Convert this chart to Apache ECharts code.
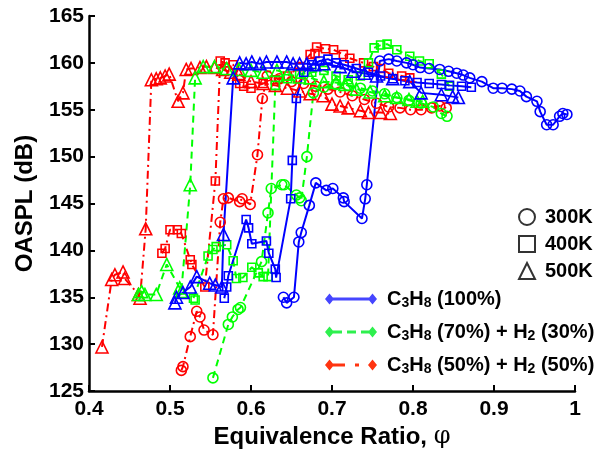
<!DOCTYPE html>
<html>
<head>
<meta charset="utf-8">
<script src="https://cdn.jsdelivr.net/npm/echarts@6/dist/echarts.min.js"></script>
<style>
  html, body { margin: 0; padding: 0; background: #fff; }
  #chart { width: 603px; height: 451px; }
</style>
</head>
<body>
<div id="chart"></div>
<script>
// [equivalence ratio, OASPL dB]
var c3h8_300K = [[0.640,135.0],[0.644,134.4],[0.653,135.0],[0.659,140.9],[0.662,141.9],[0.672,144.8],[0.680,147.2],[0.693,146.4],[0.701,146.6],[0.714,145.6],[0.715,145.2],[0.737,143.4],[0.741,145.5],[0.743,147.0],[0.759,160.2],[0.770,160.4],[0.780,160.2],[0.792,160.0],[0.800,159.8],[0.809,159.5],[0.820,159.4],[0.833,159.3],[0.844,159.1],[0.854,158.9],[0.862,158.7],[0.870,158.4],[0.885,158.0],[0.899,157.3],[0.910,157.3],[0.922,157.2],[0.932,157.0],[0.940,156.4],[0.953,155.9],[0.957,154.8],[0.965,153.4],[0.973,153.4],[0.981,154.3],[0.985,154.6],[0.990,154.5]];
var c3h8_400K = [[0.567,134.9],[0.570,136.1],[0.572,137.3],[0.594,143.3],[0.597,142.4],[0.601,140.7],[0.619,141.0],[0.622,139.7],[0.630,138.0],[0.631,137.1],[0.649,145.5],[0.651,149.6],[0.656,156.2],[0.665,159.0],[0.675,159.8],[0.685,160.2],[0.695,160.4],[0.705,160.0],[0.715,159.8],[0.730,159.4],[0.745,159.0],[0.760,158.6],[0.775,158.3],[0.790,158.1],[0.805,157.9],[0.820,157.8],[0.835,157.7],[0.845,157.6],[0.860,157.5],[0.872,157.4]];
var c3h8_500K = [[0.506,134.4],[0.508,135.0],[0.516,135.5],[0.525,136.1],[0.533,137.2],[0.549,136.5],[0.556,136.3],[0.564,136.1],[0.566,141.7],[0.578,158.4],[0.586,160.0],[0.594,159.9],[0.601,160.1],[0.611,159.9],[0.619,160.1],[0.632,160.1],[0.644,160.1],[0.652,159.9],[0.660,159.9],[0.669,159.9],[0.679,159.8],[0.690,159.9],[0.710,159.6],[0.726,159.1],[0.740,158.9],[0.755,158.6],[0.775,158.3],[0.796,158.0],[0.810,156.8],[0.835,156.6],[0.849,156.4],[0.856,156.3]];

var h30_300K = [[0.553,126.4],[0.572,132.1],[0.577,132.9],[0.584,133.7],[0.587,133.9],[0.613,138.8],[0.621,144.0],[0.625,146.6],[0.638,147.0],[0.641,147.0],[0.656,145.9],[0.660,145.6],[0.662,145.3],[0.669,150.0],[0.677,156.8],[0.690,157.4],[0.705,157.7],[0.720,157.6],[0.735,157.3],[0.750,157.0],[0.765,156.7],[0.780,156.3],[0.795,156.0],[0.810,155.7],[0.825,155.3],[0.835,154.6],[0.842,154.3]];
var h30_400K = [[0.529,134.9],[0.531,134.7],[0.547,139.4],[0.553,140.1],[0.557,140.4],[0.570,140.6],[0.578,138.9],[0.582,137.0],[0.590,137.1],[0.601,138.2],[0.609,137.6],[0.615,137.2],[0.621,137.2],[0.630,157.6],[0.645,158.3],[0.660,158.8],[0.675,159.0],[0.690,159.2],[0.705,158.6],[0.720,158.2],[0.735,158.6],[0.745,160.0],[0.752,161.6],[0.760,161.9],[0.768,162.0],[0.780,161.4],[0.796,160.7],[0.808,160.2],[0.820,159.9],[0.835,158.8],[0.845,157.5]];
var h30_500K = [[0.461,135.3],[0.465,135.6],[0.469,135.3],[0.483,135.3],[0.496,138.5],[0.512,136.0],[0.514,135.6],[0.525,147.0],[0.531,158.4],[0.541,159.6],[0.555,159.6],[0.570,159.4],[0.585,159.3],[0.600,159.2],[0.615,159.0],[0.632,159.2],[0.645,158.8],[0.660,158.5],[0.673,158.4],[0.690,158.0],[0.705,157.9],[0.716,157.7],[0.730,157.2],[0.747,156.9],[0.765,156.5],[0.780,156.3],[0.795,156.1],[0.805,155.9],[0.812,155.9]];

var h50_300K = [[0.514,127.2],[0.516,127.6],[0.525,130.8],[0.533,133.5],[0.537,132.9],[0.542,131.5],[0.553,131.0],[0.562,143.0],[0.566,145.5],[0.572,145.6],[0.586,145.2],[0.589,145.5],[0.599,144.9],[0.608,150.2],[0.614,156.2],[0.620,158.6],[0.635,158.3],[0.650,158.0],[0.665,157.8],[0.680,157.5],[0.695,157.2],[0.710,156.9],[0.725,156.5],[0.740,156.1],[0.755,155.7],[0.770,155.3],[0.784,155.2],[0.797,155.0],[0.810,155.0],[0.823,155.2],[0.833,155.4],[0.841,155.2]];
var h50_400K = [[0.490,139.7],[0.494,140.2],[0.500,142.2],[0.509,142.2],[0.514,141.8],[0.525,139.0],[0.527,138.5],[0.543,136.1],[0.556,147.4],[0.562,160.2],[0.568,160.0],[0.578,159.8],[0.586,157.8],[0.591,157.5],[0.600,157.3],[0.615,157.8],[0.630,158.2],[0.645,158.6],[0.660,159.6],[0.673,160.9],[0.679,161.0],[0.681,161.7],[0.692,161.5],[0.702,161.4],[0.714,160.9],[0.722,160.5],[0.739,160.0],[0.751,159.6],[0.760,159.4],[0.770,158.9],[0.786,158.6],[0.796,158.4]];
var h50_500K = [[0.416,129.7],[0.428,136.9],[0.432,137.4],[0.442,137.7],[0.444,137.0],[0.461,135.3],[0.463,134.9],[0.470,142.3],[0.477,158.2],[0.483,158.3],[0.488,158.4],[0.494,158.6],[0.499,158.8],[0.510,155.9],[0.516,156.8],[0.520,159.3],[0.526,159.4],[0.537,159.5],[0.545,159.6],[0.555,159.5],[0.565,159.3],[0.575,159.0],[0.585,158.8],[0.600,158.0],[0.615,157.8],[0.630,157.6],[0.645,157.3],[0.660,157.0],[0.673,156.7],[0.689,156.5],[0.700,155.6],[0.710,155.4],[0.720,155.2],[0.735,154.9],[0.745,154.7],[0.760,154.7],[0.772,154.6]];

var fuels = ['C3H8 (100%)', 'C3H8 (70%) + H2 (30%)', 'C3H8 (50%) + H2 (50%)'];
var temps = ['300K', '400K', '500K'];

var BLUE = '#0000ff', GREEN = '#00ff00', RED = '#ff0000';
var font = 'Liberation Sans, Arial, Helvetica, sans-serif';

function curve(name, data, color, symbol, size, dash) {
  return {
    name: name,
    type: 'line',
    data: data,
    symbol: symbol,
    symbolSize: size,
    itemStyle: { color: 'rgba(0,0,0,0)', borderColor: color, borderWidth: 1.6 },
    lineStyle: { color: color, width: 2, type: dash },
    emphasis: { disabled: true }
  };
}

var dashDot = [8, 4, 2, 4];
var dashed = [7, 5];

// legend icons: line with a diamond on each end
var iconSolid = 'path://M0 5.5L4.5 0L9 5.5L4.5 11ZM43 5.5L47.5 0L52 5.5L47.5 11ZM4.5 4L47.5 4L47.5 7L4.5 7Z';
var iconDash = 'path://M0 5.5L4.5 0L9 5.5L4.5 11ZM43 5.5L47.5 0L52 5.5L47.5 11ZM4.5 4L17 4L17 7L4.5 7ZM22 4L31 4L31 7L22 7ZM36 4L47.5 4L47.5 7L36 7Z';
var iconDashDot = 'path://M0 5.5L4.5 0L9 5.5L4.5 11ZM43 5.5L47.5 0L52 5.5L47.5 11ZM4.5 4L20 4L20 7L4.5 7ZM30 4L34 4L34 7L30 7Z';

var chart = echarts.init(document.getElementById('chart'));
chart.setOption({
  animation: false,
  textStyle: { fontFamily: font },
  grid: { left: 89, right: 28, top: 16, bottom: 60, outerBoundsMode: 'none' },
  xAxis: {
    type: 'value', min: 0.4, max: 1, interval: 0.1,
    name: 'Equivalence Ratio, {p|φ}',
    nameLocation: 'middle', nameGap: 33,
    nameTextStyle: {
      fontSize: 24, fontWeight: 'bold', color: '#000', fontFamily: font,
      rich: { p: { fontSize: 24, fontFamily: 'DejaVu Serif', fontWeight: 'normal', color: '#000' } }
    },
    axisLine: { lineStyle: { color: '#000', width: 2.5 } },
    axisTick: { inside: true, length: 6, lineStyle: { color: '#000', width: 2 } },
    axisLabel: { fontSize: 21, fontWeight: 'bold', color: '#000', margin: 8 },
    splitLine: { show: false }
  },
  yAxis: {
    type: 'value', min: 125, max: 165, interval: 5,
    name: 'OASPL (dB)',
    nameLocation: 'middle', nameGap: 52,
    nameTextStyle: { fontSize: 24, fontWeight: 'bold', color: '#000' },
    axisLine: { show: true, lineStyle: { color: '#000', width: 2.5 } },
    axisTick: { show: true, inside: true, length: 6, lineStyle: { color: '#000', width: 2 } },
    axisLabel: { fontSize: 21, fontWeight: 'bold', color: '#000', margin: 5 },
    splitLine: { show: false }
  },
  legend: [
    {
      left: 518, top: 207, orient: 'vertical', padding: 0,
      itemWidth: 16, itemHeight: 16, itemGap: 7,
      selectedMode: false,
      textStyle: { fontSize: 20, fontWeight: 'bold', color: '#000', lineHeight: 20, padding: [0, 0, 0, 5] },
      data: [
        { name: temps[0], icon: 'circle', itemStyle: { color: 'rgba(0,0,0,0)', borderColor: '#000', borderWidth: 2 } },
        { name: temps[1], icon: 'rect', itemStyle: { color: 'rgba(0,0,0,0)', borderColor: '#000', borderWidth: 2 } },
        { name: temps[2], icon: 'triangle', itemStyle: { color: 'rgba(0,0,0,0)', borderColor: '#000', borderWidth: 2 } }
      ]
    },
    {
      left: 325, top: 289, orient: 'vertical', padding: 0,
      itemWidth: 52, itemHeight: 11, itemGap: 12,
      selectedMode: false,
      formatter: function (name) {
        return '{t|' + name.replace(/([CH])(\d)/g, '$1}{s|$2}{t|') + '}';
      },
      textStyle: {
        color: '#000', padding: [0, 0, 0, 5],
        rich: {
          t: { fontSize: 20, fontWeight: 'bold', color: '#000', lineHeight: 22, fontFamily: font },
          s: { fontSize: 14, fontWeight: 'bold', color: '#000', lineHeight: 10, verticalAlign: 'bottom', fontFamily: font }
        }
      },
      data: [
        { name: fuels[0], icon: iconSolid, itemStyle: { color: '#4646ff', borderWidth: 0 } },
        { name: fuels[1], icon: iconDash, itemStyle: { color: '#2ef04e', borderWidth: 0 } },
        { name: fuels[2], icon: iconDashDot, itemStyle: { color: '#ff3410', borderWidth: 0 } }
      ]
    }
  ],
  series: [
    curve(fuels[2], h50_300K, RED, 'circle', 10, dashDot),
    curve(fuels[2], h50_400K, RED, 'rect', 8, dashDot),
    curve(fuels[2], h50_500K, RED, 'triangle', 12, dashDot),
    curve(fuels[1], h30_300K, GREEN, 'circle', 10, dashed),
    curve(fuels[1], h30_400K, GREEN, 'rect', 8, dashed),
    curve(fuels[1], h30_500K, GREEN, 'triangle', 12, dashed),
    curve(fuels[0], c3h8_300K, BLUE, 'circle', 10, 'solid'),
    curve(fuels[0], c3h8_400K, BLUE, 'rect', 8, 'solid'),
    curve(fuels[0], c3h8_500K, BLUE, 'triangle', 12, 'solid'),
    // temperature key (markers only)
    { name: temps[0], type: 'scatter', data: [], symbol: 'circle', itemStyle: { color: 'rgba(0,0,0,0)', borderColor: '#000', borderWidth: 2 } },
    { name: temps[1], type: 'scatter', data: [], symbol: 'rect', itemStyle: { color: 'rgba(0,0,0,0)', borderColor: '#000', borderWidth: 2 } },
    { name: temps[2], type: 'scatter', data: [], symbol: 'triangle', itemStyle: { color: 'rgba(0,0,0,0)', borderColor: '#000', borderWidth: 2 } }
  ]
});
</script>
</body>
</html>
